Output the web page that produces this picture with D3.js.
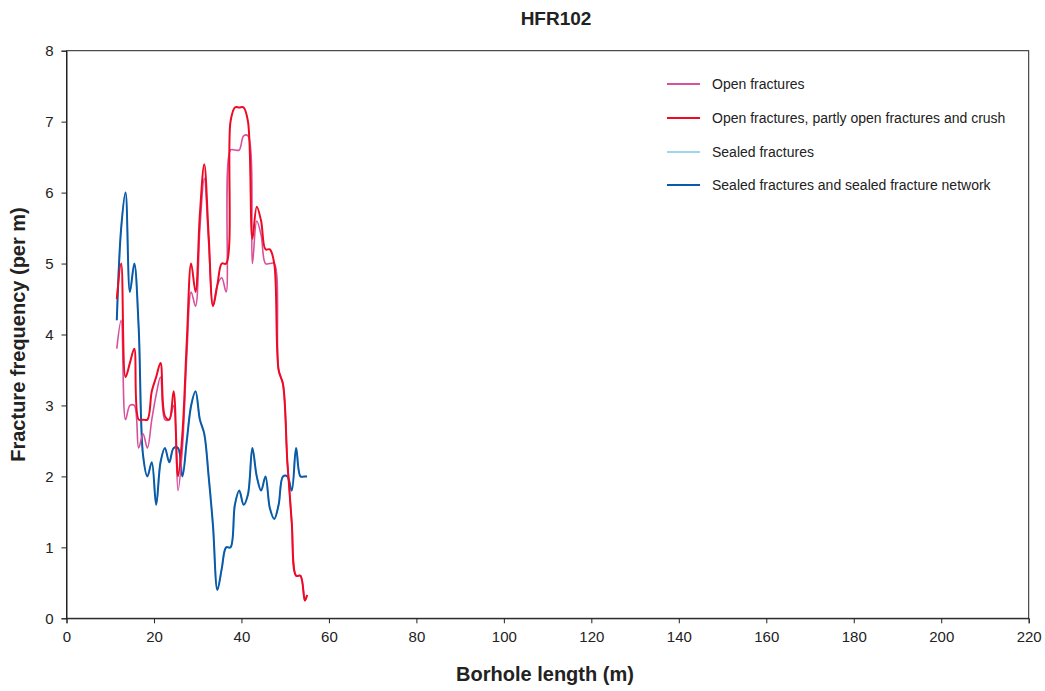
<!DOCTYPE html>
<html>
<head>
<meta charset="utf-8">
<script src="https://cdn.jsdelivr.net/npm/d3@7"></script>
<style>
  body { margin: 0; background: #fff; }
  svg { font-family: "Liberation Sans", Arial, sans-serif; }
</style>
</head>
<body>
<svg id="chart" width="1045" height="691"></svg>
<script>
const title = "HFR102";
const xTitle = "Borhole length (m)";
const yTitle = "Fracture frequency (per m)";
const xTicks = [0, 20, 40, 60, 80, 100, 120, 140, 160, 180, 200, 220];
const yTicks = [0, 1, 2, 3, 4, 5, 6, 7, 8];

const depth = [11.5, 12.5, 13.5, 14.5, 15.5, 16.5, 17.5, 18.5, 19.5, 20.5,
  21.5, 22.5, 23.5, 24.5, 25.5, 26.5, 27.5, 28.5, 29.5, 30.5,
  31.5, 32.5, 33.5, 34.5, 35.5, 36.5, 37.5, 38.5, 39.5, 40.5,
  41.5, 42.5, 43.5, 44.5, 45.5, 46.5, 47.5, 48.5, 49.5, 50.5,
  51.5, 52.5, 53.5, 54.5, 55.0];

const openFractures = [3.8, 4.2, 2.8, 3.0, 3.0, 2.4, 2.6, 2.4, 2.8, 3.15,
  3.4, 2.8, 2.8, 3.0, 1.8, 2.4, 3.7, 4.6, 4.4, 5.5,
  6.2, 5.3, 4.4, 4.7, 4.8, 4.6, 6.6, 6.6, 6.6, 6.8,
  6.8, 5.0, 5.6, 5.4, 5.0, 5.0, 5.0, 3.5, 3.3, 2.2,
  1.35, 0.6, 0.6, 0.25, 0.33];

const openPartlyCrush = [4.5, 5.0, 3.4, 3.6, 3.8, 2.8, 2.8, 2.8, 3.2, 3.4,
  3.6, 2.85, 2.8, 3.2, 2.0, 2.6, 3.9, 5.0, 4.6, 5.7,
  6.4, 5.4, 4.4, 4.7, 5.0, 5.0, 7.0, 7.2, 7.2, 7.2,
  7.0, 5.35, 5.8, 5.6, 5.2, 5.2, 5.0, 3.5, 3.3, 2.2,
  1.35, 0.6, 0.6, 0.25, 0.33];

const sealedFractures = [4.2, 5.5, 6.0, 4.6, 5.0, 4.1, 2.3, 2.0, 2.2, 1.6,
  2.2, 2.4, 2.2, 2.4, 2.4, 2.0, 2.5, 3.0, 3.2, 2.8,
  2.6, 2.0, 1.3, 0.4, 0.7, 1.0, 1.0, 1.6, 1.8, 1.6,
  1.75, 2.4, 2.0, 1.8, 2.0, 1.55, 1.4, 1.6, 2.0, 2.0,
  1.8, 2.4, 2.0, 2.0, 2.0];

const sealedNetwork = [4.2, 5.5, 6.0, 4.6, 5.0, 4.1, 2.3, 2.0, 2.2, 1.6,
  2.2, 2.4, 2.2, 2.4, 2.4, 2.0, 2.5, 3.0, 3.2, 2.8,
  2.6, 2.0, 1.3, 0.4, 0.7, 1.0, 1.0, 1.6, 1.8, 1.6,
  1.75, 2.4, 2.0, 1.8, 2.0, 1.55, 1.4, 1.6, 2.0, 2.0,
  1.8, 2.4, 2.0, 2.0, 2.0];

const seriesNames = ["Open fractures", "Open fractures, partly open fractures and crush",
  "Sealed fractures", "Sealed fractures and sealed fracture network"];
const seriesColors = ["#d8509c", "#ee0a22", "#9dd6ee", "#0b5aa8"];
const seriesValues = [openFractures, openPartlyCrush, sealedFractures, sealedNetwork];

const svg = d3.select("#chart");
const margin = {left: 66.5, right: 1045 - 1028.7, top: 50.7, bottom: 691 - 618.3};
const W = 1045, H = 691;

const x = d3.scaleLinear().domain([0, 220]).range([margin.left, W - margin.right]);
const y = d3.scaleLinear().domain([0, 8]).range([H - margin.bottom, margin.top]);

// frame
svg.append("rect")
  .attr("x", x(0)).attr("y", y(8))
  .attr("width", x(220) - x(0)).attr("height", y(0) - y(8))
  .attr("fill", "none").attr("stroke", "#222").attr("stroke-width", 1);

const xAxis = svg.append("g")
  .attr("transform", `translate(0,${y(0)})`)
  .call(d3.axisBottom(x).tickValues(xTicks).tickSize(5).tickPadding(8).tickFormat(d3.format("d")));
const yAxis = svg.append("g")
  .attr("transform", `translate(${x(0)},0)`)
  .call(d3.axisLeft(y).tickValues(yTicks).tickSize(5).tickPadding(8).tickFormat(d3.format("d")));
[xAxis, yAxis].forEach(g => {
  g.selectAll("path").attr("stroke", "#222");
  g.selectAll("line").attr("stroke", "#222");
  g.selectAll("text").attr("font-size", 15).attr("fill", "#222")
    .attr("font-family", "Liberation Sans, Arial, sans-serif");
});

const line = d3.line()
  .x((d, i) => x(depth[i]))
  .y(d => y(d))
  .curve(d3.curveCatmullRom.alpha(0.5));

const drawOrder = [2, 3, 0, 1];
drawOrder.forEach(k => {
  svg.append("path")
    .datum(seriesValues[k])
    .attr("d", line)
    .attr("fill", "none")
    .attr("stroke", seriesColors[k])
    .attr("stroke-width", k === 1 || k === 3 ? 2 : 1.6);
});

// legend
const legendY = [84, 118, 152, 185];
seriesNames.forEach((name, i) => {
  svg.append("line")
    .attr("x1", 667).attr("x2", 700)
    .attr("y1", legendY[i]).attr("y2", legendY[i])
    .attr("stroke", seriesColors[i]).attr("stroke-width", 2);
  svg.append("text")
    .attr("x", 712).attr("y", legendY[i] + 5)
    .attr("font-size", 14).attr("fill", "#222")
    .text(name);
});

svg.append("text")
  .attr("x", 556).attr("y", 25)
  .attr("text-anchor", "middle")
  .attr("font-size", 19).attr("font-weight", "bold").attr("fill", "#222")
  .text(title);

svg.append("text")
  .attr("x", 545).attr("y", 681)
  .attr("text-anchor", "middle")
  .attr("font-size", 20).attr("font-weight", "bold").attr("fill", "#222")
  .text(xTitle);

svg.append("text")
  .attr("transform", `translate(25,${(y(0) + y(8)) / 2}) rotate(-90)`)
  .attr("text-anchor", "middle")
  .attr("font-size", 20).attr("font-weight", "bold").attr("fill", "#222")
  .text(yTitle);
</script>
</body>
</html>
